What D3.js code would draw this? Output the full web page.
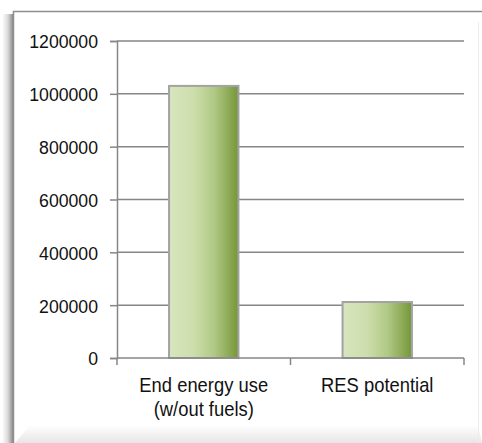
<!DOCTYPE html>
<html>
<head>
<meta charset="utf-8">
<script src="https://cdn.jsdelivr.net/npm/d3@7"></script>
<style>
  html, body { margin: 0; padding: 0; background: #fff; }
  svg { display: block; }
  text { font-family: "Liberation Sans", Arial, sans-serif; fill: #111; }
</style>
</head>
<body>
<div id="chart"></div>
<script>
// Energy balance: final energy use vs. renewable potential
const categories = ["End energy use\n(w/out fuels)", "RES potential"];
const values = [1030000, 212000];
const yTicks = [0, 200000, 400000, 600000, 800000, 1000000, 1200000];

const W = 482, H = 443;
const margin = { left: 117, right: 18, top: 41, bottom: 85 };

const svg = d3.select("#chart").append("svg")
  .attr("width", W).attr("height", H);

const defs = svg.append("defs");

// bar fill: pale green on the left, deeper olive on the right
const barGrad = defs.append("linearGradient").attr("id", "barGrad")
  .attr("x1", "0%").attr("x2", "100%").attr("y1", "0%").attr("y2", "0%");
[["0%", "#d8e5bf"], ["35%", "#cddeac"], ["65%", "#b0c985"], ["100%", "#759638"]]
  .forEach(([o, c]) => barGrad.append("stop").attr("offset", o).attr("stop-color", c));

// soft drop shadow along the frame's left side
const leftShade = defs.append("linearGradient").attr("id", "leftShade")
  .attr("x1", "0%").attr("x2", "100%");
[["0%", "#ffffff"], ["55%", "#d8d8d8"], ["100%", "#8a8a8a"]]
  .forEach(([o, c]) => leftShade.append("stop").attr("offset", o).attr("stop-color", c));

const bottomShade = defs.append("linearGradient").attr("id", "bottomShade")
  .attr("x1", "0%").attr("x2", "0%").attr("y1", "0%").attr("y2", "100%");
[["0%", "#ffffff"], ["100%", "#e6e6e6"]]
  .forEach(([o, c]) => bottomShade.append("stop").attr("offset", o).attr("stop-color", c));

// frame
svg.append("rect").attr("x", 2).attr("y", 14).attr("width", 11).attr("height", H - 14)
  .attr("fill", "url(#leftShade)");
svg.append("rect").attr("x", 13.5).attr("y", 11.5).attr("width", W).attr("height", H)
  .attr("fill", "#fff").attr("stroke", "#8f8f8f").attr("stroke-width", 1.5);
svg.append("path")
  .attr("d", `M15,${H} L30,425 L${W - 4},425 L${W},${H} Z`)
  .attr("fill", "url(#bottomShade)");
svg.append("line").attr("x1", 478.5).attr("x2", 478.5).attr("y1", 22).attr("y2", H)
  .attr("stroke", "#ececec").attr("stroke-width", 1);

const x = d3.scaleBand()
  .domain(categories)
  .range([margin.left, W - margin.right])
  .paddingInner(0.6).paddingOuter(0.3);

const xOuter = d3.scaleBand()
  .domain(categories)
  .range([margin.left, W - margin.right]);

const y = d3.scaleLinear()
  .domain([0, 1200000])
  .range([H - margin.bottom, margin.top]);

const axisColor = "#868686";

// gridlines
svg.append("g")
  .selectAll("line").data(yTicks.filter(t => t > 0)).join("line")
  .attr("x1", margin.left).attr("x2", W - margin.right)
  .attr("y1", d => y(d)).attr("y2", d => y(d))
  .attr("stroke", axisColor).attr("stroke-width", 1.5);

// y axis
const yAxis = svg.append("g")
  .attr("transform", `translate(${margin.left},0)`)
  .call(d3.axisLeft(y).tickValues(yTicks).tickFormat(d3.format("d")).tickSize(7).tickPadding(12));
yAxis.select(".domain").attr("stroke", axisColor).attr("stroke-width", 1.5);
yAxis.selectAll(".tick line").attr("stroke", axisColor).attr("stroke-width", 1.5);
yAxis.selectAll(".tick text")
  .attr("font-size", 19)
  .attr("dy", "0.36em")
  .attr("transform", "scale(0.93,1)")
  .attr("x", -19 / 0.93)
  .style("fill", "#111");

// bars
svg.append("g")
  .selectAll("rect").data(categories).join("rect")
  .attr("x", d => x(d))
  .attr("width", x.bandwidth())
  .attr("y", (d, i) => y(values[i]))
  .attr("height", (d, i) => y(0) - y(values[i]))
  .attr("fill", "url(#barGrad)")
  .attr("stroke", "#a3a3a3").attr("stroke-width", 2);

// x axis
const xAxis = svg.append("g")
  .attr("transform", `translate(0,${y(0)})`);
xAxis.append("line")
  .attr("x1", margin.left).attr("x2", W - margin.right)
  .attr("stroke", axisColor).attr("stroke-width", 1.5);
const bounds = [margin.left, ...categories.map(c => xOuter(c) + xOuter.bandwidth())];
xAxis.selectAll("line.tk").data(bounds).join("line").attr("class", "tk")
  .attr("x1", d => d).attr("x2", d => d).attr("y1", 0).attr("y2", 7)
  .attr("stroke", axisColor).attr("stroke-width", 1.5);

// category labels
const labels = xAxis.selectAll("text.cat").data(categories).join("text").attr("class", "cat")
  .attr("text-anchor", "middle")
  .attr("font-size", 20)
  .attr("transform", d => `translate(${xOuter(d) + xOuter.bandwidth() / 2},0) scale(0.92,1)`);
labels.each(function(d) {
  const lines = d.split("\n");
  d3.select(this).selectAll("tspan").data(lines).join("tspan")
    .attr("x", 0)
    .attr("y", (l, i) => 34 + i * 24)
    .text(l => l);
});
</script>
</body>
</html>
